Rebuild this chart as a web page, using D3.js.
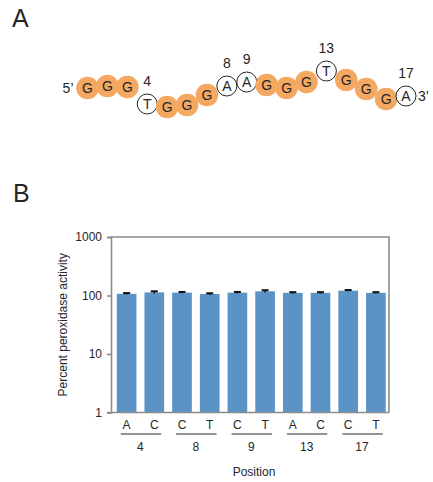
<!DOCTYPE html>
<html>
<head>
<meta charset="utf-8">
<script src="https://cdn.jsdelivr.net/npm/d3@7"></script>
<style>
  html, body { margin: 0; padding: 0; background: #fff; }
  svg { display: block; font-family: "Liberation Sans", Arial, sans-serif; }
</style>
</head>
<body>
<svg id="fig" width="433" height="482"></svg>
<script>
// Panel A: sequence of the G-quadruplex DNA
const bases = ["G","G","G","T","G","G","G","A","A","G","G","G","T","G","G","G","A"];
// wave offsets of each nucleotide (vertical displacement, px)
const baseY = [88, 86, 87, 104, 107, 105, 95, 86, 82, 85, 88, 82, 71, 80, 89, 99, 96];
const markedPositions = [4, 8, 9, 13, 17];

// Panel B: mutant activities
const mutants = ["A","C","C","T","C","T","A","C","C","T"];
const positions = ["4","8","9","13","17"];
const activity = [107, 113, 112, 106, 112, 118, 111, 111, 121, 111];
const activityErr = [3, 5, 3, 3, 3, 5, 3, 3, 3, 3];
const yTicks = [1, 10, 100, 1000];

const svg = d3.select("#fig");
const gray = "#8c8c8c";
const ink = "#262626";

// ---------- Panel A ----------
svg.append("text").attr("x", 12).attr("y", 26.7)
  .attr("font-size", 25).attr("fill", ink).text("A");

const xs = d3.scaleLinear().domain([1, 17]).range([87.5, 406]);
const seq = svg.append("g");
const nodes = seq.selectAll("g.nt").data(bases).join("g")
  .attr("class", "nt")
  .attr("transform", (d, i) => `translate(${xs(i + 1)},${baseY[i]})`);
nodes.append("circle")
  .attr("r", d => d === "G" ? 11.3 : 10)
  .attr("fill", d => d === "G" ? "#f4a862" : "#fff")
  .attr("stroke", d => d === "G" ? "none" : ink)
  .attr("stroke-width", 1);
nodes.append("text")
  .attr("text-anchor", "middle").attr("dy", "0.36em")
  .attr("font-size", 14).attr("fill", ink)
  .text(d => d);

seq.selectAll("text.pos").data(markedPositions).join("text")
  .attr("class", "pos")
  .attr("x", p => xs(p))
  .attr("y", p => baseY[p - 1] - 18)
  .attr("text-anchor", "middle").attr("font-size", 14).attr("fill", ink)
  .text(p => p);

svg.append("text").attr("x", xs(1) - 14).attr("y", baseY[0]).attr("dy", "0.36em")
  .attr("text-anchor", "end").attr("font-size", 14).attr("fill", ink).text("5\u2019");
svg.append("text").attr("x", xs(17) + 12).attr("y", baseY[16]).attr("dy", "0.36em")
  .attr("text-anchor", "start").attr("font-size", 14).attr("fill", ink).text("3\u2019");

// ---------- Panel B ----------
svg.append("text").attr("x", 13).attr("y", 201.7)
  .attr("font-size", 25).attr("fill", ink).text("B");

const plotL = 111, plotR = 389, plotT = 237, plotB = 412.5;
const y = d3.scaleLog().domain([1, 1000]).range([plotB, plotT]);
const x = d3.scaleBand().domain(d3.range(mutants.length))
  .range([114, 388.5]).paddingInner(0.29).paddingOuter(0.1);

// bars
svg.append("g").selectAll("rect").data(activity).join("rect")
  .attr("x", (d, i) => x(i))
  .attr("width", x.bandwidth())
  .attr("y", d => y(d))
  .attr("height", d => plotB - y(d))
  .attr("fill", "#5b93c7");

// error bars
const eb = svg.append("g").attr("stroke", "#111");
eb.selectAll("line.v").data(activity).join("line")
  .attr("class", "v")
  .attr("x1", (d, i) => x(i) + x.bandwidth() / 2)
  .attr("x2", (d, i) => x(i) + x.bandwidth() / 2)
  .attr("y1", (d, i) => y(d - activityErr[i]))
  .attr("y2", (d, i) => y(d + activityErr[i]))
  .attr("stroke-width", 1.5);
eb.selectAll("line.cap").data(activity).join("line")
  .attr("class", "cap")
  .attr("x1", (d, i) => x(i) + x.bandwidth() / 2 - 3.5)
  .attr("x2", (d, i) => x(i) + x.bandwidth() / 2 + 3.5)
  .attr("y1", (d, i) => y(d + activityErr[i]))
  .attr("y2", (d, i) => y(d + activityErr[i]))
  .attr("stroke-width", 2);

// frame: top and right borders
svg.append("path")
  .attr("d", `M${plotL},${plotT}H${plotR}V${plotB}`)
  .attr("fill", "none").attr("stroke", gray).attr("stroke-width", 1.6);

// left axis
const yAxis = d3.axisLeft(y).tickValues(yTicks).tickFormat(d3.format("d")).tickSize(4).tickPadding(5);
const ya = svg.append("g").attr("transform", `translate(${plotL},0)`).call(yAxis);
ya.select(".domain").attr("stroke", gray).attr("stroke-width", 1.6);
ya.selectAll(".tick line").attr("stroke", gray).attr("stroke-width", 1.6);
ya.selectAll(".tick text").attr("font-size", 12).attr("fill", ink)
  .attr("font-family", "Liberation Sans, Arial, sans-serif");

// bottom baseline
svg.append("line").attr("x1", plotL - 4).attr("x2", plotR)
  .attr("y1", plotB).attr("y2", plotB)
  .attr("stroke", gray).attr("stroke-width", 1.6);

// mutant base labels
svg.append("g").selectAll("text").data(mutants).join("text")
  .attr("x", (d, i) => x(i) + x.bandwidth() / 2)
  .attr("y", 429)
  .attr("text-anchor", "middle").attr("font-size", 12).attr("fill", ink)
  .text(d => d);

// position groups
const grp = svg.append("g").selectAll("g").data(positions).join("g");
grp.append("line")
  .attr("x1", (d, i) => x(2 * i) + 4)
  .attr("x2", (d, i) => x(2 * i + 1) + x.bandwidth() - 3)
  .attr("y1", 434).attr("y2", 434)
  .attr("stroke", "#6f6f6f").attr("stroke-width", 1.5);
grp.append("text")
  .attr("x", (d, i) => (x(2 * i) + x(2 * i + 1) + x.bandwidth()) / 2)
  .attr("y", 451)
  .attr("text-anchor", "middle").attr("font-size", 12).attr("fill", ink)
  .text(d => d);

// axis titles
svg.append("text").attr("x", (plotL + plotR) / 2 + 4).attr("y", 476)
  .attr("text-anchor", "middle").attr("font-size", 12).attr("fill", ink)
  .text("Position");
svg.append("text")
  .attr("transform", `translate(67,${(plotT + plotB) / 2}) rotate(-90)`)
  .attr("text-anchor", "middle").attr("font-size", 12).attr("fill", ink)
  .text("Percent peroxidase activity");
</script>
</body>
</html>
